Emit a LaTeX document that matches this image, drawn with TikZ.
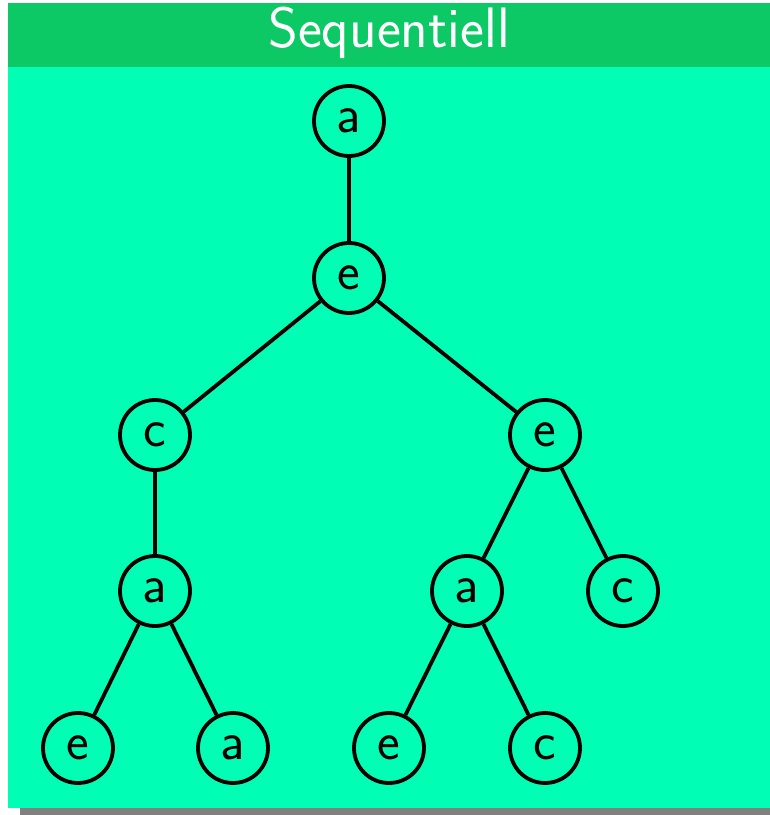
\documentclass[tikz,border=0pt]{standalone}
\usepackage{fontspec}
\begin{document}
\definecolor{titlegreen}{RGB}{12,201,101}
\definecolor{bodygreen}{RGB}{0,255,180}
\definecolor{shadowgray}{RGB}{128,128,128}
\begin{tikzpicture}[x=1pt,y=-1pt,
  vertex/.style={circle,draw=black,line width=3.8pt,minimum size=70pt,inner sep=0pt,
    font=\sffamily\fontsize{54}{60}\selectfont},
  branch/.style={line width=3.8pt}]
  \useasboundingbox (0,0) rectangle (770,815);
  % frame: shadow, body and title bar
  \fill[shadowgray] (20,15) rectangle (782,815);
  \fill[bodygreen] (8,3) rectangle (770,808);
  \fill[titlegreen] (8,3) rectangle (770,67);
  \node[text=white,font=\sffamily\fontsize{57}{62}\selectfont] (title) at (389,33) {Sequentiell};
  % tree
  \node[vertex] (r)   at (349,121) {a};
  \node[vertex] (e1)  at (349,278) {e};
  \node[vertex] (c1)  at (155,435) {c};
  \node[vertex] (e2)  at (545,435) {e};
  \node[vertex] (a1)  at (155,591) {a};
  \node[vertex] (a2)  at (467,591) {a};
  \node[vertex] (c2)  at (623,591) {c};
  \node[vertex] (e3)  at (78,748)  {e};
  \node[vertex] (a3)  at (233,748) {a};
  \node[vertex] (e4)  at (389,748) {e};
  \node[vertex] (c3)  at (545,748) {c};
  \draw[branch] (r) -- (e1);
  \draw[branch] (e1) -- (c1);
  \draw[branch] (e1) -- (e2);
  \draw[branch] (c1) -- (a1);
  \draw[branch] (e2) -- (a2);
  \draw[branch] (e2) -- (c2);
  \draw[branch] (a1) -- (e3);
  \draw[branch] (a1) -- (a3);
  \draw[branch] (a2) -- (e4);
  \draw[branch] (a2) -- (c3);
\end{tikzpicture}
\end{document}
